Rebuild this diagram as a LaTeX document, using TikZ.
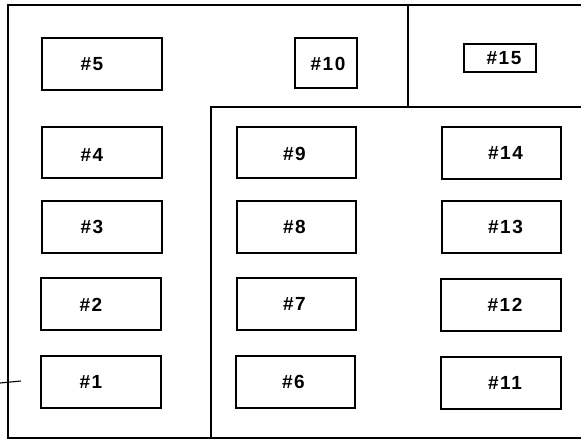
\documentclass[tikz,border=0pt]{standalone}
\usepackage{fontspec}
\newfontfamily\lblfont[LetterSpace=8]{Liberation Sans}
\newcommand\tagfont{\lblfont\bfseries\fontsize{19}{21}\selectfont}
\begin{document}
\begin{tikzpicture}[x=1pt,y=-1pt,
  wall/.style={line width=1.2pt,line cap=rect},
  slot/.style={draw,line width=1.2pt,inner sep=0pt,minimum width=120pt,minimum height=52pt},
  tag/.style={font=\tagfont,inner sep=0pt}]
\useasboundingbox (0,0) rectangle (581,439);

% outer walls and partitions
\draw[wall] (581,5) -- (8,5) -- (8,438) -- (581,438);
\draw[wall] (408,5) -- (408,107);
\draw[wall] (581,107) -- (211,107) -- (211,438);
\draw[line width=1.1pt] (0,383) -- (21,381);

% left column
\node[slot,label={[tag,xshift=-10pt]center:\#5}] (b5) at (102,64) {};
\node[slot,minimum height=51pt,label={[tag,xshift=-10pt,yshift=-2pt]center:\#4}] (b4) at (102,152.5) {};
\node[slot,label={[tag,xshift=-10pt]center:\#3}] (b3) at (102,227) {};
\node[slot,label={[tag,xshift=-10pt,yshift=-1pt]center:\#2}] (b2) at (101,304) {};
\node[slot,label={[tag,xshift=-10pt]center:\#1}] (b1) at (101,382) {};

% top boxes
\node[slot,minimum width=62pt,minimum height=50pt,label={[tag,xshift=2pt,yshift=-1pt]center:\#10}] (b10) at (326,63) {};
\node[slot,minimum width=72pt,minimum height=28pt,label={[tag,xshift=4pt]center:\#15}] (b15) at (500,58) {};

% middle column
\node[slot,minimum width=119pt,minimum height=51pt,label={[tag,xshift=-2pt,yshift=-1pt]center:\#9}] (b9) at (296.5,152.5) {};
\node[slot,minimum width=119pt,label={[tag,xshift=-2pt]center:\#8}] (b8) at (296.5,227) {};
\node[slot,minimum width=119pt,label={[tag,xshift=-2pt]center:\#7}] (b7) at (296.5,304) {};
\node[slot,minimum width=119pt,label={[tag,xshift=-2pt]center:\#6}] (b6) at (295.5,382) {};

% right column
\node[slot,minimum width=119pt,label={[tag,xshift=4pt]center:\#14}] (b14) at (501.5,153) {};
\node[slot,minimum width=119pt,label={[tag,xshift=4pt]center:\#13}] (b13) at (501.5,227) {};
\node[slot,label={[tag,xshift=4pt]center:\#12}] (b12) at (501,305) {};
\node[slot,label={[tag,xshift=4pt]center:\#11}] (b11) at (501,383) {};
\end{tikzpicture}
\end{document}
